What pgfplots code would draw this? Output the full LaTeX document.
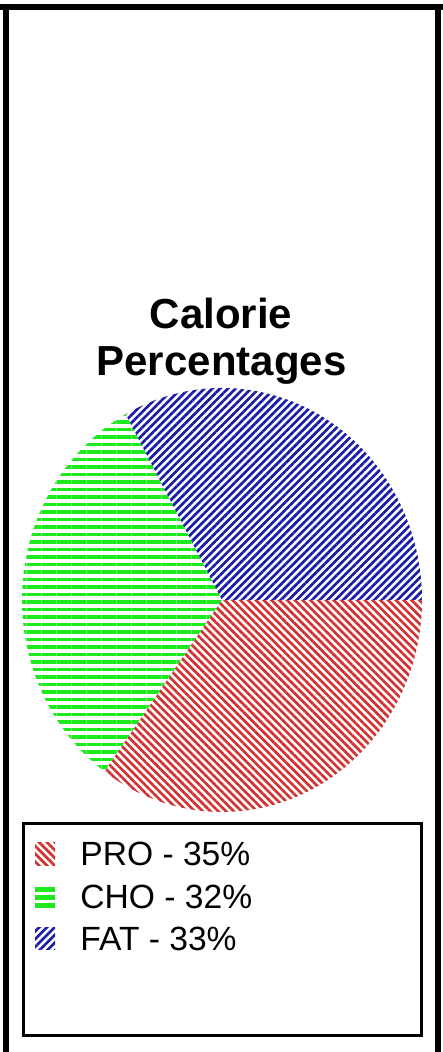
\documentclass[border=0pt]{standalone}
\usepackage{pgfplots}
\pgfplotsset{compat=1.18}
\usepackage{pgfplotstable}
\usepackage{fontspec}
\setmainfont{Liberation Sans}
\usetikzlibrary{patterns.meta}

\definecolor{proRed}{RGB}{208,52,52}
\definecolor{choGreen}{RGB}{30,232,30}
\definecolor{fatBlue}{RGB}{28,28,165}

% calorie shares in percent
\pgfplotstableread{
label value
PRO 35
CHO 32
FAT 33
}\caloriedata

\tikzset{
  proPat/.style={pattern={Lines[angle=-45,distance=2.75pt,line width=1.35pt]},pattern color=proRed},
  choPat/.style={pattern={Lines[angle=0,distance=3.75pt,line width=1.9pt]},pattern color=choGreen},
  fatPat/.style={pattern={Lines[angle=45,distance=2.75pt,line width=1.35pt]},pattern color=fatBlue},
}

\begin{document}
\begin{tikzpicture}
\pgfplotstablegetelem{0}{value}\of\caloriedata \let\vPRO\pgfplotsretval
\pgfplotstablegetelem{1}{value}\of\caloriedata \let\vCHO\pgfplotsretval
\pgfplotstablegetelem{2}{value}\of\caloriedata \let\vFAT\pgfplotsretval
\pgfmathsetmacro\aA{-3.6*\vPRO}
\pgfmathsetmacro\aB{\aA-3.6*\vCHO}
\pgfmathsetmacro\aC{\aB-3.6*\vFAT}

\begin{axis}[
    hide axis,
    scale only axis,
    width=200pt, height=212pt,
    xmin=-1, xmax=1, ymin=-1, ymax=1,
    clip=false,
    at={(111pt,226pt)}, anchor=origin,
]
\fill[proPat] (axis cs:0,0) -- (axis cs:1,0)
  arc[start angle=0,end angle=\aA,x radius=100pt,y radius=106pt] -- cycle;
\fill[choPat] (axis cs:0,0) -- (axis cs:{cos(\aA)},{sin(\aA)})
  arc[start angle=\aA,end angle=\aB,x radius=100pt,y radius=106pt] -- cycle;
\fill[fatPat] (axis cs:0,0) -- (axis cs:{cos(\aB)},{sin(\aB)})
  arc[start angle=\aB,end angle=\aC,x radius=100pt,y radius=106pt] -- cycle;
\end{axis}

\begin{scope}[x=0.5pt,y=0.5pt]
% outer frame (open at the bottom)
\fill (0,1042) rectangle (443,1048);
\fill (3,0) rectangle (9,1042);
\fill (435,0) rectangle (441,1042);
% title
\node[anchor=base,inner sep=0pt] at (221,723)
  {\fontsize{21}{24}\selectfont\bfseries Calorie};
\node[anchor=base,inner sep=0pt] at (221.5,676)
  {\fontsize{21}{24}\selectfont\bfseries Percentages};
% legend
\draw[line width=1.5pt] (23.5,228) rectangle (421.5,16.5);
\fill[proPat] (35,186) rectangle (55,209);
\fill[choGreen] (35,160) rectangle (55,165);
\fill[choGreen] (35,152) rectangle (55,157);
\fill[choGreen] (35,144) rectangle (55,149);
\fill[fatPat] (35,102) rectangle (55,124);
\node[anchor=base west,inner sep=0pt] at (80,186) {\fontsize{16.8}{19}\selectfont PRO - \vPRO\%};
\node[anchor=base west,inner sep=0pt] at (80,143) {\fontsize{16.8}{19}\selectfont CHO - \vCHO\%};
\node[anchor=base west,inner sep=0pt] at (80,101) {\fontsize{16.8}{19}\selectfont FAT - \vFAT\%};
\end{scope}
\pgfresetboundingbox
\useasboundingbox (0,0) rectangle (221.5pt,526pt);
\end{tikzpicture}
\end{document}
